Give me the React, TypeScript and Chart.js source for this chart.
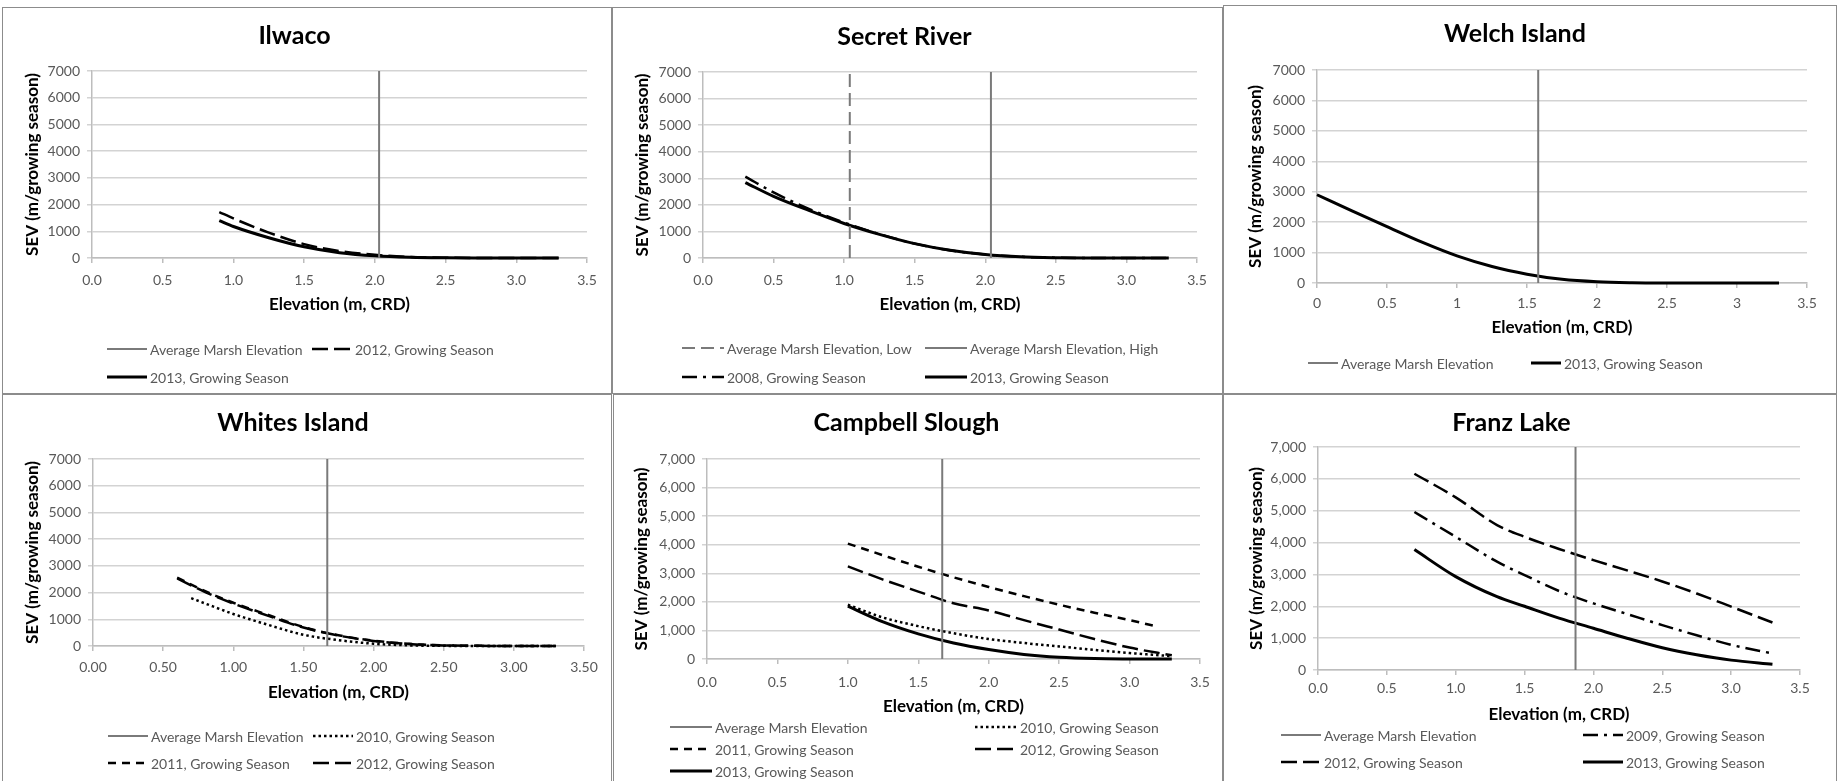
import React, { useEffect, useRef } from "react";
import { Chart, registerables } from "chart.js";

Chart.register(...registerables);

// ---------------- shared axes ----------------
const elevationTicks = [0, 0.5, 1, 1.5, 2, 2.5, 3, 3.5];
const sevTicks = [0, 1000, 2000, 3000, 4000, 5000, 6000, 7000];
const xLabelsOneDecimal = ["0.0", "0.5", "1.0", "1.5", "2.0", "2.5", "3.0", "3.5"];
const xLabelsTwoDecimals = ["0.00", "0.50", "1.00", "1.50", "2.00", "2.50", "3.00", "3.50"];
const xLabelsGeneral = ["0", "0.5", "1", "1.5", "2", "2.5", "3", "3.5"];
const yLabelsPlain = ["0", "1000", "2000", "3000", "4000", "5000", "6000", "7000"];
const yLabelsComma = ["0", "1,000", "2,000", "3,000", "4,000", "5,000", "6,000", "7,000"];
const xAxisTitle = "Elevation (m, CRD)";
const yAxisTitle = "SEV (m/growing season)";

// ---------------- Ilwaco ----------------
const ilwacoTitle = "Ilwaco";
const ilwacoMarshElevation = 2.03;
const ilwacoElevation = [0.9, 1.0, 1.25, 1.5, 1.75, 2.0, 2.25, 2.5, 2.75, 3.0, 3.3];
const ilwacoSev2012 = [1720, 1480, 950, 520, 260, 120, 40, 10, 2, 0, 0];
const ilwacoSev2013 = [1400, 1180, 760, 420, 200, 80, 25, 6, 1, 0, 0];

// ---------------- Secret River ----------------
const secretTitle = "Secret River";
const secretMarshLow = 1.04;
const secretMarshHigh = 2.04;
const secretElevation = [0.3, 0.5, 0.75, 1.0, 1.25, 1.5, 1.75, 2.0, 2.25, 2.5, 2.75, 3.0, 3.3];
const secretSev2008 = [3060, 2470, 1850, 1330, 900, 540, 290, 130, 45, 12, 2, 0, 0];
const secretSev2013 = [2840, 2320, 1790, 1300, 890, 540, 290, 130, 45, 12, 2, 0, 0];

// ---------------- Welch Island ----------------
const welchTitle = "Welch Island";
const welchMarshElevation = 1.58;
const welchElevation = [0, 0.25, 0.5, 0.75, 1.0, 1.25, 1.5, 1.75, 2.0, 2.25, 2.5, 3.0, 3.3];
const welchSev2013 = [2900, 2370, 1850, 1340, 890, 540, 290, 120, 40, 10, 2, 0, 0];

// ---------------- Whites Island ----------------
const whitesTitle = "Whites Island";
const whitesMarshElevation = 1.67;
const whitesElevation2010 = [0.7, 0.8, 1.0, 1.25, 1.5, 1.75, 2.0, 2.25, 2.5, 2.75, 3.0, 3.3];
const whitesSev2010 = [1790, 1590, 1200, 790, 420, 220, 85, 25, 6, 1, 0, 0];
const whitesElevation = [0.6, 0.8, 1.0, 1.25, 1.5, 1.75, 2.0, 2.25, 2.5, 2.75, 3.0, 3.3];
const whitesSev2011 = [2560, 2050, 1620, 1160, 710, 400, 200, 80, 25, 6, 1, 0];
const whitesSev2012 = [2530, 2020, 1590, 1130, 690, 390, 190, 75, 22, 5, 1, 0];

// ---------------- Campbell Slough ----------------
const campbellTitle = "Campbell Slough";
const campbellMarshElevation = 1.67;
const campbellElevation = [1.0, 1.25, 1.5, 1.75, 2.0, 2.25, 2.5, 2.75, 3.0, 3.3];
const campbellSev2010 = [1900, 1450, 1150, 900, 700, 560, 440, 320, 210, 100];
const campbellElevation2011 = [1.0, 1.25, 1.5, 1.75, 2.0, 2.25, 2.5, 2.75, 3.0, 3.2];
const campbellSev2011 = [4040, 3630, 3230, 2860, 2520, 2200, 1900, 1620, 1360, 1130];
const campbellSev2012 = [3240, 2780, 2360, 1950, 1700, 1360, 1030, 700, 400, 130];
const campbellSev2013 = [1850, 1300, 880, 560, 330, 160, 60, 15, 3, 0];

// ---------------- Franz Lake ----------------
const franzTitle = "Franz Lake";
const franzMarshElevation = 1.87;
const franzElevation = [0.7, 1.0, 1.3, 1.5, 1.75, 2.0, 2.25, 2.5, 2.75, 3.0, 3.3];
const franzSev2009 = [4960, 4180, 3400, 2980, 2480, 2090, 1750, 1410, 1090, 790, 520];
const franzSev2012 = [6160, 5420, 4550, 4180, 3800, 3450, 3120, 2780, 2400, 1990, 1490];
const franzSev2013 = [3780, 2930, 2300, 2000, 1630, 1310, 990, 700, 480, 310, 180];

// ---------------- styles ----------------
const FONT = "Lato, 'Open Sans', 'DejaVu Sans', sans-serif";
const TITLE_SIZE = 25;
const AXIS_TITLE_SIZE = 17;
const TICK_SIZE = 14;
const LEGEND_SIZE = 14;
const TICK_LEN = 5;
const TICK_COLOR = "#595959";
const GRID_COLOR = "#d3d3d3";
const AXIS_COLOR = "#bdbdbd";
const BORDER_COLOR = "#8c8c8c";

const marshSolid = { borderColor: "#7a7a7a", borderWidth: 2, borderDash: [] as number[] };
const marshDashed = { borderColor: "#7a7a7a", borderWidth: 2, borderDash: [13, 6] };
const solidLine = { borderColor: "#000000", borderWidth: 3, borderDash: [] as number[] };
const longDash = { borderColor: "#000000", borderWidth: 2.5, borderDash: [16, 6] };
const shortDash = { borderColor: "#000000", borderWidth: 2.5, borderDash: [8, 6] };
const roundDot = { borderColor: "#000000", borderWidth: 2.5, borderDash: [2.5, 3] };
const longDashDot = { borderColor: "#000000", borderWidth: 2.5, borderDash: [15, 6, 3, 6] };

function curve(label: string, xs: number[], ys: number[], style: any) {
  return {
    label,
    data: xs.map((x, i) => ({ x, y: ys[i] })),
    showLine: true,
    pointRadius: 0,
    pointHoverRadius: 0,
    fill: false,
    cubicInterpolationMode: "monotone",
    clip: 8,
    ...style,
  };
}

function marsh(label: string, x: number, style: any) {
  return {
    label,
    data: [
      { x, y: sevTicks[0] },
      { x, y: sevTicks[sevTicks.length - 1] },
    ],
    showLine: true,
    pointRadius: 0,
    pointHoverRadius: 0,
    fill: false,
    tension: 0,
    clip: 8,
    ...style,
  };
}

// ---------------- legend plugin ----------------
const gridLegend = {
  id: "gridLegend",
  afterDraw(chart: any, _args: any, opts: any) {
    if (!opts || !opts.items) return;
    const ctx = chart.ctx;
    ctx.save();
    ctx.font = `${LEGEND_SIZE}px ${FONT}`;
    ctx.textBaseline = "middle";
    ctx.textAlign = "left";
    for (const [di, col, row] of opts.items) {
      const ds = chart.data.datasets[di];
      const x = opts.cols[col];
      const y = opts.rows[row];
      ctx.beginPath();
      ctx.setLineDash(ds.borderDash || []);
      ctx.lineWidth = ds.borderWidth;
      ctx.strokeStyle = ds.borderColor;
      ctx.moveTo(x, y);
      ctx.lineTo(x + opts.marker, y);
      ctx.stroke();
      ctx.setLineDash([]);
      ctx.fillStyle = TICK_COLOR;
      ctx.fillText(ds.label, x + opts.marker + 3, y + 1);
    }
    ctx.restore();
  },
};
Chart.register(gridLegend);

// ---------------- panels ----------------
interface PanelSpec {
  title: string;
  datasets: any[];
  xLabels: string[];
  yLabels: string[];
  box: number[];
  plot: number[];
  titleY: number;
  yTitleX: number;
  xLabelY: number;
  xTitleY: number;
  legendCols: number[];
  legendRows: number[];
  legendMarker: number;
  legendItems: number[][];
}

const panels: PanelSpec[] = [
  {
    title: ilwacoTitle,
    datasets: [
      marsh("Average Marsh Elevation", ilwacoMarshElevation, marshSolid),
      curve("2012, Growing Season", ilwacoElevation, ilwacoSev2012, longDash),
      curve("2013, Growing Season", ilwacoElevation, ilwacoSev2013, solidLine),
    ],
    xLabels: xLabelsOneDecimal,
    yLabels: yLabelsPlain,
    box: [2, 7, 610, 387],
    plot: [92, 71, 587, 258],
    titleY: 36,
    yTitleX: 33,
    xLabelY: 280,
    xTitleY: 305,
    legendCols: [107, 312],
    legendRows: [349, 377],
    legendMarker: 40,
    legendItems: [[0, 0, 0], [1, 1, 0], [2, 0, 1]],
  },
  {
    title: secretTitle,
    datasets: [
      marsh("Average Marsh Elevation, Low", secretMarshLow, marshDashed),
      marsh("Average Marsh Elevation, High", secretMarshHigh, marshSolid),
      curve("2008, Growing Season", secretElevation, secretSev2008, longDashDot),
      curve("2013, Growing Season", secretElevation, secretSev2013, solidLine),
    ],
    xLabels: xLabelsOneDecimal,
    yLabels: yLabelsPlain,
    box: [612, 7, 611, 387],
    plot: [703, 72, 1197, 258],
    titleY: 37,
    yTitleX: 643,
    xLabelY: 280,
    xTitleY: 305,
    legendCols: [682, 925],
    legendRows: [348, 377],
    legendMarker: 42,
    legendItems: [[0, 0, 0], [1, 1, 0], [2, 0, 1], [3, 1, 1]],
  },
  {
    title: welchTitle,
    datasets: [
      marsh("Average Marsh Elevation", welchMarshElevation, marshSolid),
      curve("2013, Growing Season", welchElevation, welchSev2013, solidLine),
    ],
    xLabels: xLabelsGeneral,
    yLabels: yLabelsPlain,
    box: [1223, 5, 614, 389],
    plot: [1317, 70, 1807, 283],
    titleY: 34,
    yTitleX: 1256,
    xLabelY: 303,
    xTitleY: 328,
    legendCols: [1308, 1531],
    legendRows: [363],
    legendMarker: 30,
    legendItems: [[0, 0, 0], [1, 1, 0]],
  },
  {
    title: whitesTitle,
    datasets: [
      marsh("Average Marsh Elevation", whitesMarshElevation, marshSolid),
      curve("2010, Growing Season", whitesElevation2010, whitesSev2010, roundDot),
      curve("2011, Growing Season", whitesElevation, whitesSev2011, shortDash),
      curve("2012, Growing Season", whitesElevation, whitesSev2012, longDash),
    ],
    xLabels: xLabelsTwoDecimals,
    yLabels: yLabelsPlain,
    box: [2, 394, 610, 392],
    plot: [93, 459, 584, 646],
    titleY: 423,
    yTitleX: 33,
    xLabelY: 667,
    xTitleY: 693,
    legendCols: [108, 313],
    legendRows: [736, 763],
    legendMarker: 40,
    legendItems: [[0, 0, 0], [1, 1, 0], [2, 0, 1], [3, 1, 1]],
  },
  {
    title: campbellTitle,
    datasets: [
      marsh("Average Marsh Elevation", campbellMarshElevation, marshSolid),
      curve("2010, Growing Season", campbellElevation, campbellSev2010, roundDot),
      curve("2011, Growing Season", campbellElevation2011, campbellSev2011, shortDash),
      curve("2012, Growing Season", campbellElevation, campbellSev2012, longDash),
      curve("2013, Growing Season", campbellElevation, campbellSev2013, solidLine),
    ],
    xLabels: xLabelsOneDecimal,
    yLabels: yLabelsComma,
    box: [613, 394, 610, 392],
    plot: [707, 459, 1200, 659],
    titleY: 423,
    yTitleX: 642,
    xLabelY: 682,
    xTitleY: 707,
    legendCols: [670, 975],
    legendRows: [727, 749, 771],
    legendMarker: 42,
    legendItems: [[0, 0, 0], [1, 1, 0], [2, 0, 1], [3, 1, 1], [4, 0, 2]],
  },
  {
    title: franzTitle,
    datasets: [
      marsh("Average Marsh Elevation", franzMarshElevation, marshSolid),
      curve("2009, Growing Season", franzElevation, franzSev2009, longDashDot),
      curve("2012, Growing Season", franzElevation, franzSev2012, longDash),
      curve("2013, Growing Season", franzElevation, franzSev2013, solidLine),
    ],
    xLabels: xLabelsOneDecimal,
    yLabels: yLabelsComma,
    box: [1223, 394, 614, 392],
    plot: [1318, 447, 1800, 670],
    titleY: 423,
    yTitleX: 1257,
    xLabelY: 688,
    xTitleY: 715,
    legendCols: [1281, 1583],
    legendRows: [735, 762],
    legendMarker: 40,
    legendItems: [[0, 0, 0], [1, 1, 0], [2, 0, 1], [3, 1, 1]],
  },
];

function buildConfig(p: PanelSpec): any {
  const [bx, by, bw, bh] = p.box;
  const pl = p.plot[0] - bx;
  const pt = p.plot[1] - by;
  const pr = p.plot[2] - bx;
  const pb = p.plot[3] - by;
  const titleLH = TITLE_SIZE * 1.2;
  const tY = p.titleY - by;
  const axisLH = AXIS_TITLE_SIZE * 1.2;
  const tickLH = TICK_SIZE * 1.2;
  const xH = p.xTitleY - p.plot[3] + axisLH / 2;
  const xPad = p.xLabelY - p.plot[3] - TICK_LEN - tickLH / 2;
  const tickFont = { family: FONT, size: TICK_SIZE };
  const axisTitleFont = { family: FONT, size: AXIS_TITLE_SIZE, weight: "bold" };

  return {
    type: "scatter",
    data: { datasets: p.datasets },
    options: {
      responsive: false,
      maintainAspectRatio: false,
      animation: false,
      events: [],
      layout: {
        padding: { left: 0, top: 0, right: bw - pr, bottom: bh - pb - xH },
      },
      plugins: {
        legend: { display: false },
        tooltip: { enabled: false },
        title: {
          display: true,
          text: p.title,
          color: "#000000",
          font: { family: FONT, size: TITLE_SIZE, weight: "bold" },
          padding: { top: tY - titleLH / 2, bottom: pt - tY - titleLH / 2 },
        },
        gridLegend: {
          items: p.legendItems,
          cols: p.legendCols.map((c) => c - bx),
          rows: p.legendRows.map((r) => r - by),
          marker: p.legendMarker,
        },
      },
      scales: {
        x: {
          type: "linear",
          min: elevationTicks[0],
          max: elevationTicks[elevationTicks.length - 1],
          afterBuildTicks: (s: any) => {
            s.ticks = elevationTicks.map((value) => ({ value }));
          },
          afterFit: (s: any) => {
            s.height = xH;
          },
          ticks: {
            callback: (_v: any, i: number) => p.xLabels[i],
            font: tickFont,
            color: TICK_COLOR,
            padding: xPad,
            maxRotation: 0,
            autoSkip: false,
          },
          grid: {
            drawOnChartArea: false,
            drawTicks: true,
            tickLength: TICK_LEN,
            color: AXIS_COLOR,
            lineWidth: 1.5,
          },
          border: { display: true, color: AXIS_COLOR, width: 1.5 },
          title: {
            display: true,
            text: xAxisTitle,
            color: "#000000",
            font: axisTitleFont,
            padding: { top: 0, bottom: 0 },
          },
        },
        y: {
          type: "linear",
          min: sevTicks[0],
          max: sevTicks[sevTicks.length - 1],
          afterBuildTicks: (s: any) => {
            s.ticks = sevTicks.map((value) => ({ value }));
          },
          afterFit: (s: any) => {
            s.width = pl;
          },
          ticks: {
            callback: (_v: any, i: number) => p.yLabels[i],
            font: tickFont,
            color: TICK_COLOR,
            padding: 7,
            autoSkip: false,
          },
          grid: {
            color: GRID_COLOR,
            lineWidth: 1.5,
            drawTicks: true,
            tickLength: TICK_LEN,
          },
          border: { display: true, color: AXIS_COLOR, width: 1.5 },
          title: {
            display: true,
            text: yAxisTitle,
            color: "#000000",
            font: axisTitleFont,
            padding: { top: p.yTitleX - bx - axisLH / 2, bottom: 0 },
          },
        },
      },
    },
  };
}

function Panel({ spec }: { spec: PanelSpec }) {
  const ref = useRef<HTMLCanvasElement>(null);
  useEffect(() => {
    if (!ref.current) return;
    const chart = new Chart(ref.current, buildConfig(spec));
    return () => chart.destroy();
  }, [spec]);
  const [x, y, w, h] = spec.box;
  return (
    <div style={{ position: "absolute", left: x, top: y, width: w, height: h }}>
      <canvas
        ref={ref}
        width={w}
        height={h}
        style={{ position: "absolute", left: 0, top: 0, width: w, height: h }}
      />
      <div
        style={{
          position: "absolute",
          left: 0,
          top: 0,
          width: w,
          height: h,
          boxSizing: "border-box",
          border: `1px solid ${BORDER_COLOR}`,
          pointerEvents: "none",
        }}
      />
    </div>
  );
}

export default function App() {
  return (
    <div
      style={{
        position: "absolute",
        left: 0,
        top: 0,
        width: 1843,
        height: 781,
        overflow: "hidden",
        background: "#ffffff",
      }}
    >
      {panels.map((p) => (
        <Panel key={p.title} spec={p} />
      ))}
    </div>
  );
}
